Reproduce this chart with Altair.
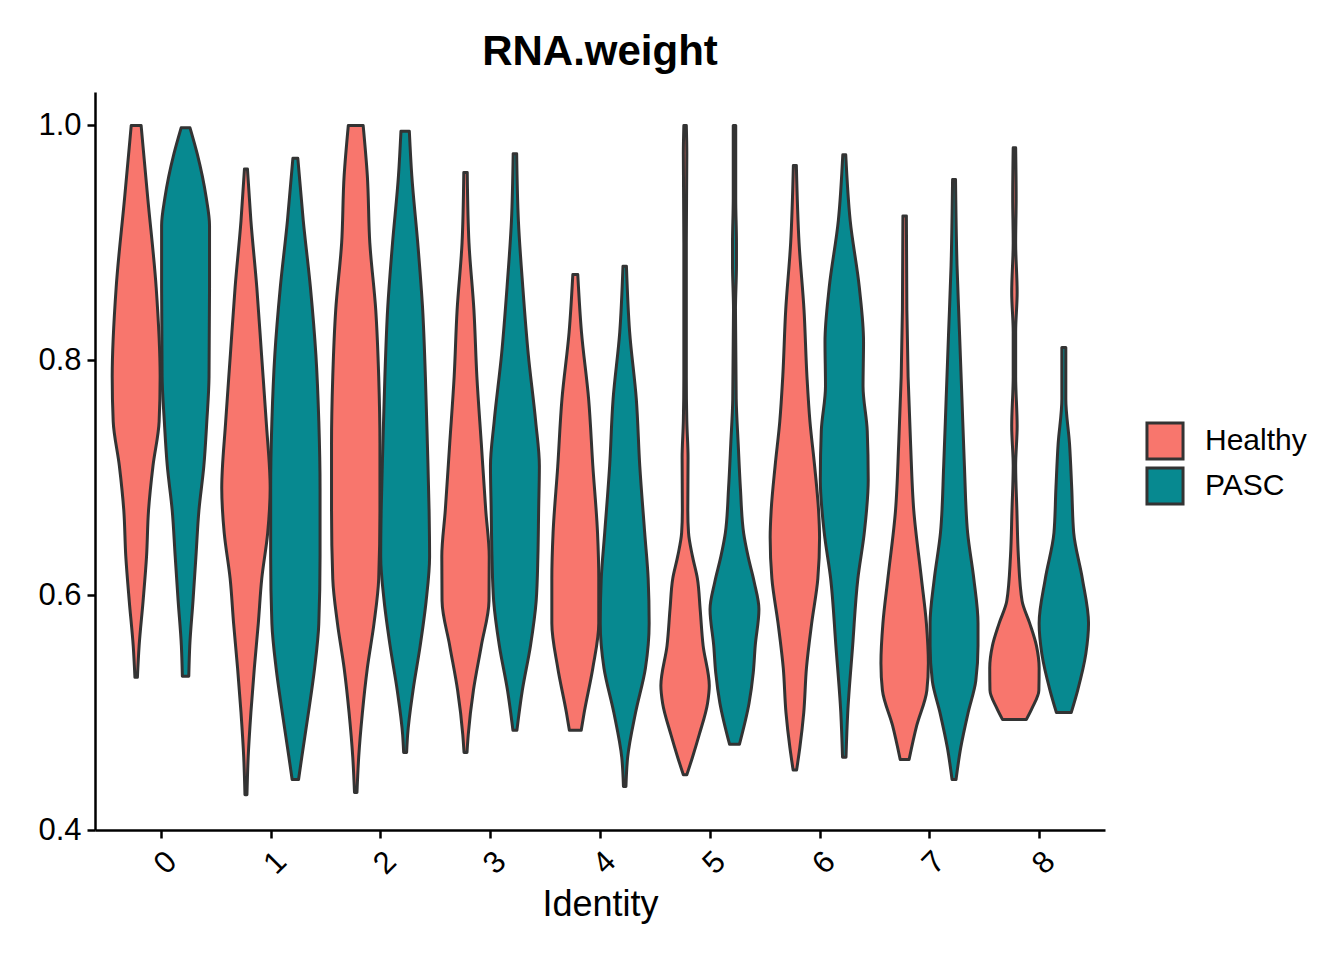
import altair as alt
import pandas as pd

identities = [0, 1, 2, 3, 4, 5, 6, 7, 8]
groups = ["Healthy", "PASC"]
colors = ["#F8766D", "#078990"]

# violin profiles: value levels and relative half-widths
h0_y = [1.000, 0.938, 0.862, 0.786, 0.748, 0.710, 0.672, 0.633, 0.595, 0.557, 0.530]
h0_w = [0.20, 0.47, 0.81, 0.97, 0.93, 0.68, 0.50, 0.42, 0.28, 0.12, 0.05]
p0_y = [0.998, 0.976, 0.938, 0.915, 0.862, 0.786, 0.748, 0.710, 0.672, 0.633, 0.595, 0.557, 0.531]
p0_w = [0.18, 0.47, 0.84, 0.97, 0.97, 0.95, 0.86, 0.74, 0.54, 0.42, 0.30, 0.17, 0.13]
h1_y = [0.963, 0.919, 0.862, 0.805, 0.748, 0.691, 0.653, 0.614, 0.576, 0.538, 0.500, 0.462, 0.430]
h1_w = [0.06, 0.20, 0.44, 0.63, 0.82, 0.98, 0.88, 0.64, 0.50, 0.34, 0.20, 0.09, 0.04]
p1_y = [0.972, 0.919, 0.862, 0.805, 0.748, 0.691, 0.633, 0.576, 0.538, 0.500, 0.462, 0.443]
p1_w = [0.10, 0.32, 0.61, 0.83, 0.95, 1.00, 1.00, 0.95, 0.78, 0.53, 0.26, 0.13]
h2_y = [1.000, 0.957, 0.900, 0.843, 0.786, 0.729, 0.672, 0.614, 0.576, 0.538, 0.500, 0.462, 0.432]
h2_w = [0.30, 0.47, 0.57, 0.81, 0.93, 0.98, 0.98, 0.93, 0.74, 0.47, 0.27, 0.12, 0.05]
p2_y = [0.995, 0.957, 0.900, 0.843, 0.786, 0.729, 0.672, 0.633, 0.595, 0.557, 0.519, 0.481, 0.466]
p2_w = [0.17, 0.27, 0.51, 0.71, 0.82, 0.90, 0.97, 0.99, 0.85, 0.61, 0.32, 0.10, 0.06]
h3_y = [0.960, 0.900, 0.843, 0.786, 0.729, 0.672, 0.633, 0.595, 0.557, 0.519, 0.481, 0.466]
h3_w = [0.07, 0.14, 0.34, 0.46, 0.64, 0.82, 0.96, 0.95, 0.64, 0.32, 0.11, 0.06]
p3_y = [0.976, 0.919, 0.862, 0.805, 0.748, 0.710, 0.672, 0.633, 0.595, 0.557, 0.519, 0.485]
p3_w = [0.07, 0.14, 0.32, 0.54, 0.84, 0.99, 0.96, 0.93, 0.86, 0.63, 0.30, 0.08]
h4_y = [0.873, 0.824, 0.767, 0.710, 0.653, 0.614, 0.576, 0.538, 0.500, 0.485]
h4_w = [0.10, 0.25, 0.54, 0.71, 0.90, 0.95, 0.95, 0.71, 0.36, 0.24]
p4_y = [0.880, 0.824, 0.767, 0.710, 0.653, 0.614, 0.576, 0.538, 0.500, 0.462, 0.437]
p4_w = [0.07, 0.20, 0.47, 0.61, 0.81, 0.95, 0.99, 0.84, 0.44, 0.12, 0.05]
h5_y = [1.000, 0.976, 0.900, 0.786, 0.748, 0.717, 0.672, 0.653, 0.633, 0.614, 0.588, 0.557, 0.523, 0.508, 0.481, 0.462, 0.447]
h5_w = [0.05, 0.07, 0.05, 0.05, 0.07, 0.12, 0.11, 0.14, 0.30, 0.50, 0.61, 0.73, 0.98, 0.91, 0.57, 0.30, 0.07]
p5_y = [1.000, 0.938, 0.900, 0.881, 0.843, 0.767, 0.729, 0.691, 0.653, 0.633, 0.611, 0.588, 0.557, 0.534, 0.508, 0.473]
p5_w = [0.05, 0.05, 0.08, 0.08, 0.04, 0.07, 0.15, 0.24, 0.37, 0.55, 0.80, 0.99, 0.84, 0.76, 0.59, 0.20]
h6_y = [0.966, 0.900, 0.843, 0.786, 0.748, 0.710, 0.672, 0.649, 0.614, 0.576, 0.538, 0.500, 0.470, 0.451]
h6_w = [0.06, 0.17, 0.37, 0.49, 0.61, 0.80, 0.96, 1.00, 0.93, 0.68, 0.47, 0.36, 0.20, 0.07]
p6_y = [0.975, 0.919, 0.862, 0.816, 0.778, 0.740, 0.698, 0.653, 0.614, 0.557, 0.500, 0.462]
p6_w = [0.06, 0.24, 0.61, 0.78, 0.76, 0.93, 0.97, 0.81, 0.55, 0.34, 0.14, 0.07]
h7_y = [0.923, 0.843, 0.786, 0.729, 0.672, 0.614, 0.576, 0.542, 0.519, 0.489, 0.460]
h7_w = [0.07, 0.09, 0.14, 0.24, 0.37, 0.68, 0.88, 0.96, 0.90, 0.49, 0.18]
p7_y = [0.954, 0.881, 0.824, 0.767, 0.710, 0.653, 0.614, 0.576, 0.557, 0.527, 0.500, 0.470, 0.443]
p7_w = [0.06, 0.12, 0.22, 0.32, 0.42, 0.55, 0.80, 0.97, 0.97, 0.88, 0.57, 0.27, 0.08]
h8_y = [0.981, 0.938, 0.900, 0.858, 0.824, 0.786, 0.744, 0.710, 0.672, 0.633, 0.595, 0.576, 0.557, 0.538, 0.519, 0.504, 0.494]
h8_w = [0.05, 0.07, 0.05, 0.11, 0.05, 0.05, 0.11, 0.05, 0.10, 0.16, 0.31, 0.62, 0.89, 1.00, 0.99, 0.72, 0.48]
p8_y = [0.811, 0.767, 0.729, 0.691, 0.653, 0.614, 0.576, 0.550, 0.519, 0.500]
p8_w = [0.08, 0.08, 0.23, 0.32, 0.40, 0.75, 1.00, 0.89, 0.56, 0.30]

profiles = [
    (0, "Healthy", h0_y, h0_w), (0, "PASC", p0_y, p0_w),
    (1, "Healthy", h1_y, h1_w), (1, "PASC", p1_y, p1_w),
    (2, "Healthy", h2_y, h2_w), (2, "PASC", p2_y, p2_w),
    (3, "Healthy", h3_y, h3_w), (3, "PASC", p3_y, p3_w),
    (4, "Healthy", h4_y, h4_w), (4, "PASC", p4_y, p4_w),
    (5, "Healthy", h5_y, h5_w), (5, "PASC", p5_y, p5_w),
    (6, "Healthy", h6_y, h6_w), (6, "PASC", p6_y, p6_w),
    (7, "Healthy", h7_y, h7_w), (7, "PASC", p7_y, p7_w),
    (8, "Healthy", h8_y, h8_w), (8, "PASC", p8_y, p8_w),
]

HALF = 0.225  # dodge offset and max half-width (in category units)
rows = []
for ident, grp, ys, ws in profiles:
    center = ident + (-HALF if grp == "Healthy" else HALF)
    for y, w in zip(ys, ws):
        rows.append({
            "identity": ident, "group": grp, "violin": f"{ident}-{grp}",
            "value": y, "xl": center - w * HALF, "xr": center + w * HALF,
        })
df = pd.DataFrame(rows).sort_values(["violin", "value"])

FONT = "Liberation Sans"

chart = alt.Chart(df).mark_area(
    orient="horizontal", interpolate="monotone", stroke="#333333",
    strokeWidth=3, fillOpacity=1, strokeJoin="round",
).encode(
    y=alt.Y("value:Q",
            scale=alt.Scale(domain=[0.4, 1.0285], nice=False, zero=False),
            axis=alt.Axis(values=[0.4, 0.6, 0.8, 1.0], format=".1f", title=None,
                          labelPadding=6)),
    x=alt.X("xl:Q",
            scale=alt.Scale(domain=[-0.6, 8.6], nice=False, zero=False),
            axis=alt.Axis(values=identities, format="d", labelAngle=315,
                          labelAlign="right", labelBaseline="top", labelPadding=8,
                          title="Identity", titlePadding=8)),
    x2="xr:Q",
    color=alt.Color("group:N", scale=alt.Scale(domain=groups, range=colors),
                    legend=alt.Legend(title=None, orient="none", legendX=1050, legendY=329,
                                      symbolType="square", symbolSize=1300,
                                      symbolStrokeColor="#333333", symbolStrokeWidth=3,
                                      symbolOpacity=1, labelFontSize=30, labelFont=FONT,
                                      labelColor="black", labelOffset=20, rowPadding=-13,
                                      padding=0)),
    detail="violin:N",
).properties(
    width=1010, height=738,
    autosize="none",
    padding={"left": 87, "top": 84, "right": 231, "bottom": 122},
    title=alt.TitleParams("RNA.weight", fontSize=42, fontWeight="bold", font=FONT,
                          anchor="middle", offset=18, color="black"),
).configure_view(
    strokeWidth=0
).configure_axis(
    grid=False, domainColor="black", domainWidth=2.5, tickColor="black",
    tickWidth=2.5, tickSize=8, labelColor="black", labelFontSize=31, labelFont=FONT,
    titleFont=FONT, titleFontSize=36, titleFontWeight="normal", titleColor="black",
)

chart.save("out.html", embed_options={"renderer": "svg", "actions": False})
